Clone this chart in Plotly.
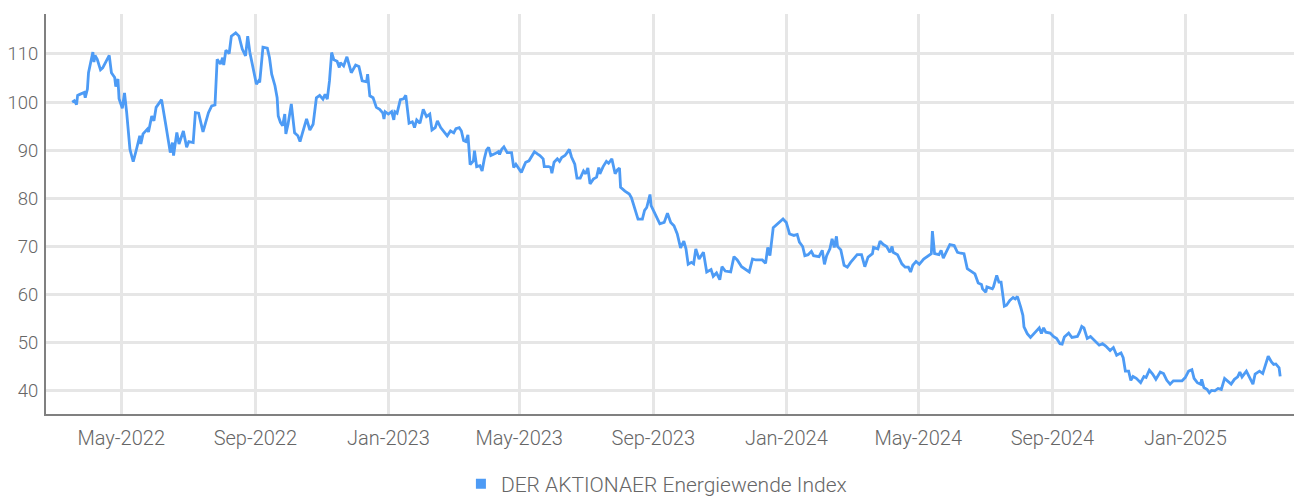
import plotly.graph_objects as go

# ---- data (date, index level) ----
dates_2022 = ["2022-03-17","2022-03-19","2022-03-21","2022-03-22","2022-03-24","2022-03-28","2022-03-29","2022-03-31",
"2022-04-01","2022-04-03","2022-04-05","2022-04-06","2022-04-07","2022-04-09","2022-04-12","2022-04-14","2022-04-20",
"2022-04-22","2022-04-25","2022-04-26","2022-04-28","2022-04-29","2022-05-02","2022-05-04","2022-05-06","2022-05-09",
"2022-05-12","2022-05-15","2022-05-18","2022-05-19","2022-05-21","2022-05-25","2022-05-26","2022-05-29","2022-05-31",
"2022-06-02","2022-06-07","2022-06-11","2022-06-15","2022-06-17","2022-06-18","2022-06-21","2022-06-23","2022-06-27",
"2022-06-30","2022-07-02","2022-07-06","2022-07-08","2022-07-11","2022-07-15","2022-07-20","2022-07-23","2022-07-26",
"2022-07-28","2022-07-31","2022-08-02","2022-08-03","2022-08-05","2022-08-08","2022-08-10","2022-08-14","2022-08-17",
"2022-08-20","2022-08-23","2022-08-25","2022-08-27","2022-08-30","2022-09-02","2022-09-04","2022-09-05","2022-09-08",
"2022-09-12","2022-09-14","2022-09-16","2022-09-19","2022-09-21","2022-09-22","2022-09-24","2022-09-26","2022-09-28",
"2022-09-29","2022-10-01","2022-10-04","2022-10-07","2022-10-10","2022-10-12","2022-10-14","2022-10-18","2022-10-21",
"2022-10-24","2022-10-27","2022-10-30","2022-11-02","2022-11-04","2022-11-06","2022-11-08","2022-11-10","2022-11-12",
"2022-11-15","2022-11-17","2022-11-18","2022-11-21","2022-11-24","2022-11-28","2022-12-02","2022-12-05","2022-12-08",
"2022-12-12","2022-12-13","2022-12-15","2022-12-18","2022-12-21","2022-12-24","2022-12-27","2022-12-28","2022-12-29"]
values_2022 = [100.0,100.3,99.5,101.4,101.6,102.0,100.9,102.7,
106.1,108.2,110.4,108.3,109.7,108.9,106.7,107.1,109.7,
106.1,105.1,103.2,104.8,100.7,98.7,101.9,97.8,90.2,
87.6,90.2,93.0,91.3,93.4,94.4,93.8,97.1,96.1,
98.9,100.5,95.1,89.5,91.6,88.9,93.7,91.3,94.0,
90.6,91.8,91.6,97.8,97.7,93.8,97.8,99.2,99.4,
108.9,107.9,109.2,107.7,110.8,110.1,113.7,114.4,113.7,
111.0,109.6,113.7,110.3,107.2,103.7,104.4,104.1,111.4,
111.2,109.2,105.8,103.4,100.9,97.1,95.8,95.1,97.5,
93.4,95.4,99.6,93.6,93.0,91.8,93.4,96.5,94.2,
95.4,100.9,101.4,100.6,101.6,100.6,104.4,110.3,108.8,
108.5,107.2,108.2,107.5,109.4,106.1,107.7,107.4,104.4,
104.2,105.8,101.3,100.9,98.9,98.5,97.7,96.5,98.0]

dates_2023 = ["2023-01-01","2023-01-04","2023-01-06","2023-01-07","2023-01-09","2023-01-12","2023-01-15","2023-01-17",
"2023-01-20","2023-01-23","2023-01-24","2023-01-25","2023-01-27","2023-01-30","2023-02-02","2023-02-05","2023-02-08",
"2023-02-10","2023-02-13","2023-02-15","2023-02-18","2023-02-21","2023-02-24","2023-02-27","2023-03-02","2023-03-04",
"2023-03-07","2023-03-09","2023-03-11","2023-03-13","2023-03-15","2023-03-17","2023-03-20","2023-03-21","2023-03-23",
"2023-03-26","2023-03-28","2023-03-30","2023-04-01","2023-04-03","2023-04-05","2023-04-09","2023-04-12","2023-04-13",
"2023-04-15","2023-04-17","2023-04-20","2023-04-24","2023-04-26","2023-04-28","2023-05-03","2023-05-06","2023-05-07",
"2023-05-10","2023-05-15","2023-05-18","2023-05-20","2023-05-23","2023-05-24","2023-05-28","2023-05-30","2023-05-31",
"2023-06-02","2023-06-05","2023-06-07","2023-06-09","2023-06-12","2023-06-14","2023-06-16","2023-06-18","2023-06-21",
"2023-06-23","2023-06-26","2023-06-29","2023-07-01","2023-07-03","2023-07-05","2023-07-08","2023-07-11","2023-07-13",
"2023-07-14","2023-07-17","2023-07-20","2023-07-22","2023-07-25","2023-07-28","2023-07-30","2023-08-01","2023-08-02",
"2023-08-06","2023-08-10","2023-08-12","2023-08-15","2023-08-18","2023-08-22","2023-08-24","2023-08-26","2023-08-29",
"2023-08-30","2023-09-01","2023-09-04","2023-09-07","2023-09-11","2023-09-14","2023-09-17","2023-09-20","2023-09-23",
"2023-09-24","2023-09-26","2023-09-29","2023-10-01","2023-10-03","2023-10-06","2023-10-08","2023-10-10","2023-10-13",
"2023-10-17","2023-10-20","2023-10-24","2023-10-26","2023-10-29","2023-11-01","2023-11-03","2023-11-06","2023-11-11",
"2023-11-14","2023-11-17","2023-11-21","2023-11-25","2023-11-28","2023-12-01","2023-12-04","2023-12-10","2023-12-13",
"2023-12-15","2023-12-17","2023-12-20","2023-12-24","2023-12-29"]
values_2023 = [97.5,98.0,96.3,98.0,97.7,100.5,100.7,101.4,
95.6,95.9,95.4,94.7,96.3,95.6,98.5,97.0,97.5,
94.2,94.7,96.1,94.7,93.8,93.0,94.0,93.6,94.5,
94.7,94.0,92.0,91.8,93.2,87.0,87.8,89.9,86.6,
86.8,85.7,88.2,90.0,90.6,88.9,89.3,89.7,89.1,
90.2,90.7,89.5,89.5,86.4,87.1,85.4,87.0,87.5,
87.8,89.7,89.2,88.9,88.2,86.6,86.6,86.4,85.2,
87.5,88.2,87.7,88.5,88.9,89.5,90.2,88.6,87.1,
84.2,84.2,85.7,85.1,86.3,83.0,84.0,84.4,86.4,
85.1,86.6,87.7,87.3,88.2,85.1,85.9,86.3,82.3,
81.5,80.9,80.1,78.1,75.7,75.7,77.5,78.1,80.8,
78.5,77.5,76.1,74.7,75.0,76.9,75.0,74.3,72.6,
71.8,69.7,71.1,69.5,66.3,66.7,66.4,69.5,67.4,
68.8,64.7,65.2,63.8,64.5,63.1,65.8,64.9,64.7,
67.9,67.2,65.8,65.2,64.7,67.4,67.2,67.2,66.5,
69.8,68.1,73.9,74.7,75.7]

dates_2024 = ["2024-01-01","2024-01-04","2024-01-08","2024-01-11","2024-01-13","2024-01-16","2024-01-18","2024-01-21",
"2024-01-24","2024-01-26","2024-01-31","2024-02-03","2024-02-05","2024-02-07","2024-02-10","2024-02-12","2024-02-14",
"2024-02-16","2024-02-17","2024-02-20","2024-02-23","2024-02-26","2024-02-29","2024-03-06","2024-03-10","2024-03-13",
"2024-03-16","2024-03-20","2024-03-21","2024-03-25","2024-03-27","2024-03-30","2024-04-02","2024-04-05","2024-04-07",
"2024-04-08","2024-04-12","2024-04-16","2024-04-19","2024-04-22","2024-04-24","2024-04-26","2024-04-29","2024-05-02",
"2024-05-06","2024-05-10","2024-05-13","2024-05-14","2024-05-16","2024-05-20","2024-05-22","2024-05-24","2024-05-27",
"2024-05-30","2024-06-03","2024-06-06","2024-06-09","2024-06-12","2024-06-15","2024-06-18","2024-06-22","2024-06-25",
"2024-06-28","2024-06-29","2024-07-02","2024-07-03","2024-07-08","2024-07-09","2024-07-12","2024-07-14","2024-07-16",
"2024-07-19","2024-07-21","2024-07-24","2024-07-27","2024-07-29","2024-07-31","2024-08-03","2024-08-05","2024-08-06",
"2024-08-09","2024-08-12","2024-08-15","2024-08-18","2024-08-20","2024-08-22","2024-08-24","2024-08-26","2024-08-30",
"2024-09-02","2024-09-05","2024-09-08","2024-09-10","2024-09-12","2024-09-16","2024-09-19","2024-09-24","2024-09-26",
"2024-09-28","2024-09-30","2024-10-03","2024-10-06","2024-10-09","2024-10-14","2024-10-17","2024-10-20","2024-10-24",
"2024-10-27","2024-10-30","2024-11-03","2024-11-05","2024-11-07","2024-11-10","2024-11-12","2024-11-14","2024-11-17",
"2024-11-21","2024-11-24","2024-11-26","2024-11-29","2024-12-02","2024-12-05","2024-12-09","2024-12-12","2024-12-15",
"2024-12-18","2024-12-21","2024-12-24","2024-12-29"]
values_2024 = [75.0,72.6,72.3,72.5,70.9,70.0,68.1,68.3,
69.0,68.1,67.9,69.2,66.3,68.1,69.5,71.6,69.8,
72.1,70.0,69.3,66.1,65.7,66.7,68.3,68.3,65.8,
67.8,68.5,69.8,69.5,71.1,70.4,70.0,68.8,70.0,
68.8,68.3,66.4,65.7,65.7,64.7,66.1,66.9,66.3,
67.4,68.1,68.5,73.2,68.5,68.3,69.2,67.6,69.0,
70.4,70.2,68.8,68.6,68.5,65.4,65.0,64.3,62.4,
62.1,61.2,60.5,61.6,61.2,61.6,64.0,62.6,62.6,
57.6,57.8,58.8,59.4,59.1,59.6,57.4,55.7,53.3,
51.9,51.1,51.9,52.7,53.1,51.9,53.1,52.2,52.0,
51.3,50.9,49.8,49.7,51.2,52.0,51.1,51.3,52.2,
53.4,53.1,50.9,51.3,50.6,49.5,49.8,49.3,48.4,
49.0,47.4,47.9,46.9,44.1,44.1,42.2,43.0,42.6,
41.7,43.0,42.8,44.3,43.5,42.4,43.9,43.6,42.2,
41.4,42.1,42.1,42.1]

dates_2025 = ["2025-01-01","2025-01-04","2025-01-07","2025-01-09","2025-01-12","2025-01-15","2025-01-16","2025-01-18",
"2025-01-21","2025-01-23","2025-01-25","2025-01-28","2025-01-31","2025-02-03","2025-02-06","2025-02-09","2025-02-12",
"2025-02-15","2025-02-18","2025-02-20","2025-02-22","2025-02-26","2025-02-28","2025-03-04","2025-03-06","2025-03-10",
"2025-03-13","2025-03-18","2025-03-21","2025-03-23","2025-03-25","2025-03-28","2025-03-29"]
values_2025 = [42.8,44.1,44.4,42.6,41.7,41.4,42.4,40.7,
40.3,39.6,40.1,40.0,40.5,40.3,42.6,41.9,41.4,
42.4,42.9,43.9,42.9,44.1,43.3,41.4,43.5,44.1,
43.6,47.2,46.0,45.5,45.6,44.8,43.0]

series_name = "DER AKTIONAER Energiewende Index"
x_range = ["2022-02-21", "2025-04-18"]
y_range = [35.2, 118.3]

dates = dates_2022 + dates_2023 + dates_2024 + dates_2025
values = values_2022 + values_2023 + values_2024 + values_2025

LINE_COLOR = "#4d9bf5"
FONT = "Roboto, DejaVu Sans Condensed, sans-serif"
TEXT_COLOR = "#666666"

fig = go.Figure()
fig.add_trace(go.Scatter(
    x=dates, y=values, mode="lines",
    line=dict(color=LINE_COLOR, width=2.8),
    showlegend=False, name=series_name,
))
# legend-only entry with a square swatch
fig.add_trace(go.Scatter(
    x=[None], y=[None], mode="markers", name=series_name,
    marker=dict(symbol="square", size=10, color=LINE_COLOR),
    showlegend=True,
))

xtickfont = dict(family=FONT, size=20, color=TEXT_COLOR, weight=300)
ytickfont = dict(family=FONT, size=18.5, color=TEXT_COLOR, weight=300)

# the page body adds an 8px offset, so the figure is sized/margined to compensate
fig.update_layout(
    width=1294, height=488,
    margin=dict(l=38, r=0, t=6, b=82, autoexpand=False),
    paper_bgcolor="white", plot_bgcolor="white",
    font=dict(family=FONT, size=20, color=TEXT_COLOR, weight=300),
    legend=dict(
        orientation="h", x=0.486, xanchor="center", y=-0.175, yanchor="middle",
        font=dict(family=FONT, size=21, color=TEXT_COLOR, weight=300),
        itemwidth=30, bgcolor="rgba(0,0,0,0)",
    ),
    xaxis=dict(
        type="date", range=x_range, automargin=False,
        tick0="2022-01-01", dtick="M4", tickformat="%b-%Y",
        showgrid=True, gridcolor="#e6e6e6", gridwidth=2.5,
        showline=True, linecolor="#808080", linewidth=2,
        ticks="", ticklabelstandoff=5, zeroline=False,
        tickfont=xtickfont,
    ),
    yaxis=dict(
        range=y_range, tick0=0, dtick=10, automargin=False,
        showgrid=True, gridcolor="#e6e6e6", gridwidth=2.5,
        showline=True, linecolor="#808080", linewidth=2,
        ticks="", ticklabelstandoff=2, zeroline=False,
        tickfont=ytickfont,
    ),
)

fig.write_html("out.html")
